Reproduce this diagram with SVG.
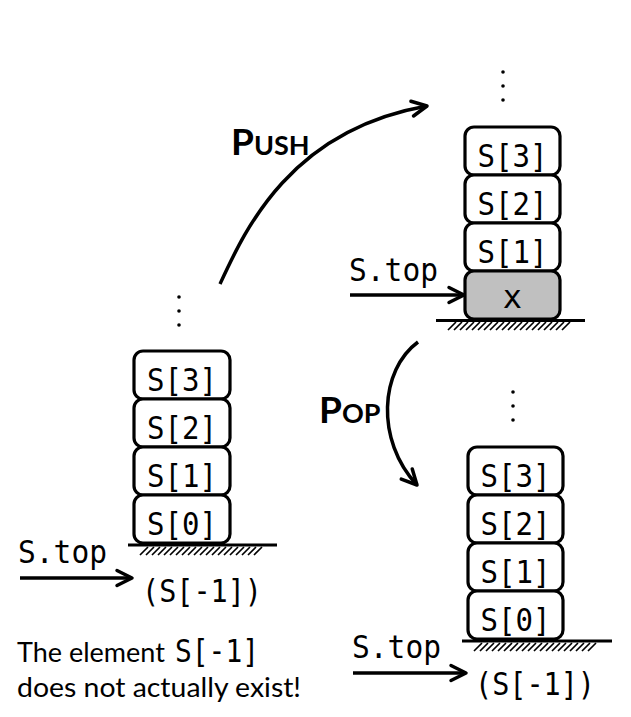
<svg xmlns="http://www.w3.org/2000/svg" width="631" height="717" viewBox="0 0 631 717">
<style>
.box{fill:#fff;stroke:#000;stroke-width:3.2}
.gray{fill:#c0c0c0}
.mono{font-family:"DejaVu Sans Mono","Liberation Mono",monospace;font-size:32px;fill:#000}
.lbl{text-anchor:middle}
.ground{stroke:#000;stroke-width:3;fill:none}
.hatch{stroke:#000;stroke-width:1.7;fill:none}
.arrow{stroke:#000;stroke-width:3.5;fill:none}
.sans{font-family:Lato,"Open Sans","Liberation Sans",sans-serif;fill:#000}
.op{font-family:Lato,"Open Sans","Liberation Sans",sans-serif;font-weight:bold;fill:#000}
.dot{fill:#000}
</style>
<defs>
<marker id="head" markerUnits="userSpaceOnUse" viewBox="-20 -12 24 24" markerWidth="24" markerHeight="24" refX="0" refY="0" orient="auto">
<path d="M-15,-7.5 L0,0 L-15,7.5" fill="none" stroke="#000" stroke-width="3.5" stroke-linecap="round" stroke-linejoin="round"/>
</marker>
</defs>

<g id="stack-left">
<circle class="dot" cx="179" cy="297" r="1.8"/>
<circle class="dot" cx="179" cy="311" r="1.8"/>
<circle class="dot" cx="179" cy="325" r="1.8"/>
<rect class="box" x="134" y="351" width="96" height="48" rx="9"/>
<text class="mono lbl" x="182" y="391" textLength="70" lengthAdjust="spacingAndGlyphs">S[3]</text>
<rect class="box" x="134" y="399" width="96" height="48" rx="9"/>
<text class="mono lbl" x="182" y="439" textLength="70" lengthAdjust="spacingAndGlyphs">S[2]</text>
<rect class="box" x="134" y="447" width="96" height="48" rx="9"/>
<text class="mono lbl" x="182" y="487" textLength="70" lengthAdjust="spacingAndGlyphs">S[1]</text>
<rect class="box" x="134" y="495" width="96" height="48" rx="9"/>
<text class="mono lbl" x="182" y="535" textLength="70" lengthAdjust="spacingAndGlyphs">S[0]</text>
<line class="ground" x1="128" y1="545" x2="277" y2="545"/>
<path class="hatch" d="M140 555l8-8M146 555l8-8M152 555l8-8M158 555l8-8M164 555l8-8M170 555l8-8M176 555l8-8M182 555l8-8M188 555l8-8M194 555l8-8M200 555l8-8M206 555l8-8M212 555l8-8M218 555l8-8M224 555l8-8M230 555l8-8M236 555l8-8M242 555l8-8M248 555l8-8M254 555l8-8"/>
<text class="mono" x="18" y="563" textLength="89" lengthAdjust="spacingAndGlyphs">S.top</text>
<text class="mono" x="142" y="602" textLength="120" lengthAdjust="spacingAndGlyphs">(S[-1])</text>
</g>

<g id="stack-push">
<circle class="dot" cx="503" cy="72" r="1.8"/>
<circle class="dot" cx="503" cy="86" r="1.8"/>
<circle class="dot" cx="503" cy="100" r="1.8"/>
<rect class="box" x="465" y="127" width="95" height="48" rx="9"/>
<text class="mono lbl" x="512.5" y="167" textLength="70" lengthAdjust="spacingAndGlyphs">S[3]</text>
<rect class="box" x="465" y="175" width="95" height="48" rx="9"/>
<text class="mono lbl" x="512.5" y="215" textLength="70" lengthAdjust="spacingAndGlyphs">S[2]</text>
<rect class="box" x="465" y="223" width="95" height="48" rx="9"/>
<text class="mono lbl" x="512.5" y="263" textLength="70" lengthAdjust="spacingAndGlyphs">S[1]</text>
<rect class="box gray" x="465" y="271" width="95" height="48" rx="9"/>
<text class="mono lbl" x="512.5" y="308">x</text>
<line class="ground" x1="436" y1="320.5" x2="585" y2="320.5"/>
<path class="hatch" d="M448 330l8-8M454 330l8-8M460 330l8-8M466 330l8-8M472 330l8-8M478 330l8-8M484 330l8-8M490 330l8-8M496 330l8-8M502 330l8-8M508 330l8-8M514 330l8-8M520 330l8-8M526 330l8-8M532 330l8-8M538 330l8-8M544 330l8-8M550 330l8-8M556 330l8-8M562 330l8-8"/>
<text class="mono" x="349" y="281" textLength="89" lengthAdjust="spacingAndGlyphs">S.top</text>
</g>

<g id="stack-pop">
<circle class="dot" cx="513" cy="392" r="1.8"/>
<circle class="dot" cx="513" cy="406" r="1.8"/>
<circle class="dot" cx="513" cy="420" r="1.8"/>
<rect class="box" x="468" y="447" width="95" height="48" rx="9"/>
<text class="mono lbl" x="515.5" y="487" textLength="70" lengthAdjust="spacingAndGlyphs">S[3]</text>
<rect class="box" x="468" y="495" width="95" height="48" rx="9"/>
<text class="mono lbl" x="515.5" y="535" textLength="70" lengthAdjust="spacingAndGlyphs">S[2]</text>
<rect class="box" x="468" y="543" width="95" height="48" rx="9"/>
<text class="mono lbl" x="515.5" y="583" textLength="70" lengthAdjust="spacingAndGlyphs">S[1]</text>
<rect class="box" x="468" y="591" width="95" height="48" rx="9"/>
<text class="mono lbl" x="515.5" y="631" textLength="70" lengthAdjust="spacingAndGlyphs">S[0]</text>
<line class="ground" x1="462" y1="641" x2="612" y2="641"/>
<path class="hatch" d="M474 651l8-8M480 651l8-8M486 651l8-8M492 651l8-8M498 651l8-8M504 651l8-8M510 651l8-8M516 651l8-8M522 651l8-8M528 651l8-8M534 651l8-8M540 651l8-8M546 651l8-8M552 651l8-8M558 651l8-8M564 651l8-8M570 651l8-8M576 651l8-8M582 651l8-8M588 651l8-8"/>
<text class="mono" x="352" y="658" textLength="89" lengthAdjust="spacingAndGlyphs">S.top</text>
<text class="mono" x="475" y="695" textLength="120" lengthAdjust="spacingAndGlyphs">(S[-1])</text>
</g>

<g id="connectors">
<path class="arrow" d="M220,284 C245,230 290,130 427,106" marker-end="url(#head)"/>
<path class="arrow" d="M418,342 C380,370 375,440 417,485" marker-end="url(#head)"/>
<line class="arrow" x1="20" y1="578" x2="132" y2="578" marker-end="url(#head)"/>
<line class="arrow" x1="350" y1="295" x2="464" y2="295" marker-end="url(#head)"/>
<line class="arrow" x1="353" y1="673" x2="466" y2="673" marker-end="url(#head)"/>
</g>

<g id="labels">
<text class="op" x="231" y="155"><tspan font-size="37">P</tspan><tspan font-size="27">USH</tspan></text>
<text class="op" x="319" y="423"><tspan font-size="37">P</tspan><tspan font-size="27">OP</tspan></text>
<text class="sans" x="17" y="662" font-size="27">The element <tspan class="mono" x="175" textLength="84" lengthAdjust="spacingAndGlyphs">S[-1]</tspan></text>
<text class="sans" x="17" y="697" font-size="27" textLength="284" lengthAdjust="spacingAndGlyphs">does not actually exist!</text>
</g>
</svg>
